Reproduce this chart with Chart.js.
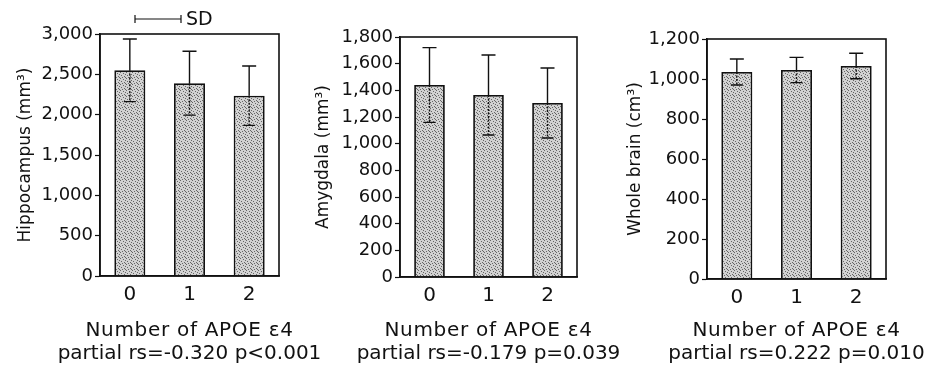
<!DOCTYPE html>
<html>
<head>
<meta charset="utf-8">
<script src="https://cdn.jsdelivr.net/npm/chart.js@4"></script>
<style>
	body { margin: 0; background: #fff; width: 935px; height: 370px; position: relative; overflow: hidden; }
	canvas { position: absolute; top: 0; }
</style>
</head>
<body>
<canvas id="c1" width="335" height="370" style="left:0px"></canvas>
<canvas id="c2" width="325" height="370" style="left:310px"></canvas>
<canvas id="c3" width="315" height="370" style="left:620px"></canvas>
<script>
var categories = ["0", "1", "2"];

var hippoMean = [2550, 2390, 2235];
var hippoSD = [388, 396, 368];

var amygMean = [1440, 1365, 1305];
var amygSD = [280, 300, 263];

var brainMean = [1035, 1045, 1065];
var brainSD = [65, 63, 64];

var yMax = [3000, 1800, 1200];
var yStep = [500, 200, 200];
var yTitles = ["Hippocampus (mm³)", "Amygdala (mm³)", "Whole brain (cm³)"];
var xTitle = "Number of APOE ε4";
var stats = ["partial rs=-0.320 p<0.001", "partial rs=-0.179 p=0.039", "partial rs=0.222 p=0.010"];

var FONT = "'DejaVu Sans', sans-serif";
var INK = "#111";

// stippled grey fill for the bars
function stipple() {
	var c = document.createElement("canvas");
	c.width = 6; c.height = 6;
	var g = c.getContext("2d");
	g.fillStyle = "#d2d2d2";
	g.fillRect(0, 0, 6, 6);
	g.fillStyle = "#666";
	var dots = [[0,0],[3,1],[5,2],[1,3],[4,4],[2,5],[5,5]];
	for (var i = 0; i < dots.length; i++) g.fillRect(dots[i][0], dots[i][1], 1, 1);
	return g.createPattern(c, "repeat");
}

var errorBars = {
	id: "errorBars",
	afterDatasetsDraw: function(chart) {
		var ctx = chart.ctx;
		var ys = chart.scales.y;
		var ds = chart.data.datasets[0];
		var meta = chart.getDatasetMeta(0);
		ctx.save();
		ctx.strokeStyle = INK;
		ctx.lineWidth = 1.4;
		for (var i = 0; i < meta.data.length; i++) {
			var x = meta.data[i].x;
			var top = ys.getPixelForValue(ds.data[i]);
			var hi = ys.getPixelForValue(ds.data[i] + ds.sd[i]);
			var lo = ys.getPixelForValue(ds.data[i] - ds.sd[i]);
			ctx.setLineDash([]);
			ctx.beginPath();
			ctx.moveTo(x, top); ctx.lineTo(x, hi);
			ctx.moveTo(x - 7, hi); ctx.lineTo(x + 7, hi);
			ctx.moveTo(x - 6, lo); ctx.lineTo(x + 6, lo);
			ctx.stroke();
			ctx.setLineDash([2, 1.5]);
			ctx.beginPath();
			ctx.moveTo(x, top); ctx.lineTo(x, lo);
			ctx.stroke();
		}
		ctx.restore();
	}
};

// box round the plot, the SD key and the two lines under the x axis
var frame = {
	id: "frame",
	afterDraw: function(chart) {
		var a = chart.chartArea;
		var ctx = chart.ctx;
		var idx = chart.options.plugins.panel;
		ctx.save();
		ctx.strokeStyle = INK;
		ctx.lineWidth = 1.6;
		ctx.strokeRect(a.left, a.top, a.right - a.left, a.bottom - a.top);

		ctx.fillStyle = INK;
		ctx.textAlign = "center";
		ctx.textBaseline = "middle";
		var cx = (a.left + a.right) / 2;
		ctx.font = "20px " + FONT;
		ctx.letterSpacing = "0.7px";
		ctx.fillText(xTitle, cx, 331);
		ctx.letterSpacing = "0px";
		ctx.fillText(stats[idx], cx, 354);

		if (idx === 0) {
			var x0 = a.left + 35, x1 = a.left + 81, y = a.top - 15;
			ctx.lineWidth = 1.2;
			ctx.beginPath();
			ctx.moveTo(x0, y); ctx.lineTo(x1, y);
			ctx.moveTo(x0, y - 4); ctx.lineTo(x0, y + 4);
			ctx.moveTo(x1, y - 4); ctx.lineTo(x1, y + 4);
			ctx.stroke();
			ctx.textAlign = "left";
			ctx.font = "19px " + FONT;
			ctx.fillText("SD", x1 + 5, y + 1);
		}
		ctx.restore();
	}
};

function makeChart(id, idx, means, sds, yAxisWidth, xAxisHeight, pad, yTitlePad) {
	return new Chart(document.getElementById(id), {
		type: "bar",
		data: {
			labels: categories,
			datasets: [{
				data: means,
				sd: sds,
				backgroundColor: stipple(),
				borderColor: INK,
				borderWidth: 1.8,
				borderSkipped: "bottom",
				barPercentage: 0.52,
				categoryPercentage: 1
			}]
		},
		options: {
			responsive: false,
			animation: false,
			layout: { padding: pad },
			plugins: {
				legend: { display: false },
				tooltip: { enabled: false },
				panel: idx
			},
			scales: {
				x: {
					grid: { display: false, drawTicks: false },
					border: { display: true, color: INK, width: 1.6 },
					ticks: { color: INK, font: { family: FONT, size: 20 }, padding: 7 },
					afterFit: function(s) { s.height = xAxisHeight; }
				},
				y: {
					min: 0,
					max: yMax[idx],
					grid: { drawOnChartArea: false, tickLength: 5, color: INK, tickWidth: 1.2 },
					border: { display: true, color: INK, width: 1.6 },
					ticks: { stepSize: yStep[idx], color: INK, font: { family: FONT, size: 18 }, padding: 2 },
					title: {
						display: true,
						text: yTitles[idx],
						color: INK,
						font: { family: FONT, size: 17 },
						padding: { top: yTitlePad, bottom: 0 }
					},
					afterFit: function(s) { s.width = yAxisWidth; }
				}
			}
		},
		plugins: [errorBars, frame]
	});
}

makeChart("c1", 0, hippoMean, hippoSD, 100, 94, { left: 0, right: 56, top: 34, bottom: 0 }, 15);
makeChart("c2", 1, amygMean, amygSD, 90, 93, { left: 0, right: 58, top: 37, bottom: 0 }, 3);
makeChart("c3", 2, brainMean, brainSD, 87, 91, { left: 0, right: 49, top: 39, bottom: 0 }, 5);
</script>
</body>
</html>
